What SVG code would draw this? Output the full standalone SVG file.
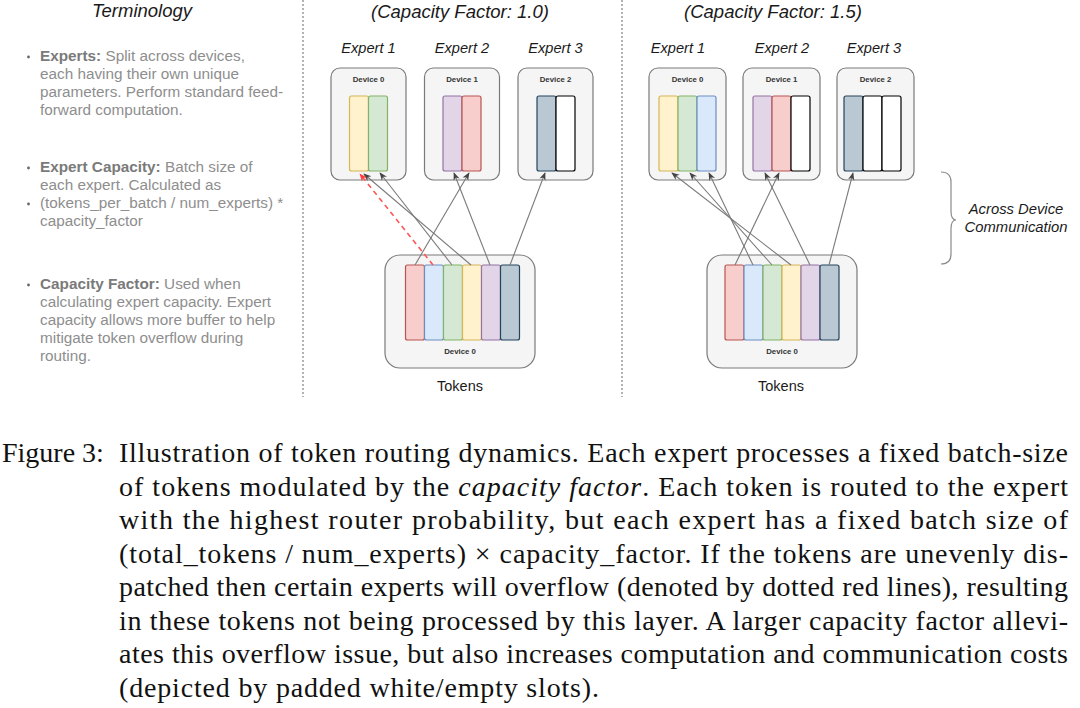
<svg xmlns="http://www.w3.org/2000/svg" width="1080" height="708" viewBox="0 0 1080 708">
<style>
.sans{font-family:"Liberation Sans",Arial,sans-serif}
.title{font-family:"Liberation Sans",Arial,sans-serif;font-style:italic;font-size:18.5px;fill:#1a1a1a}
.elab{font-family:"Liberation Sans",Arial,sans-serif;font-style:italic;font-size:14.6px;fill:#1a1a1a}
.dev{fill:#f5f5f5;stroke:#7a7a7a;stroke-width:1.2}
.devlab{font-family:"Liberation Sans",Arial,sans-serif;font-weight:bold;font-size:7.8px;fill:#333;text-anchor:middle}
.tok{font-family:"Liberation Sans",Arial,sans-serif;font-size:14.5px;fill:#1a1a1a;text-anchor:middle}
.term{font-family:"Liberation Sans",Arial,sans-serif;font-size:15.3px;fill:#8e8e8e}
.term .b{font-weight:bold;fill:#7a7a7a}
.bul{fill:#666}
.sep{stroke:#9a9a9a;stroke-width:1.5;stroke-dasharray:2 2;fill:none}
.y{fill:#fff2cc;stroke:#d6b656}
.g{fill:#d5e8d4;stroke:#82b366}
.r{fill:#f8cecc;stroke:#b85450}
.bl{fill:#dae8fc;stroke:#6c8ebf}
.p{fill:#e1d5e7;stroke:#9673a6}
.s{fill:#bac8d3;stroke:#23445d}
.w{fill:#ffffff;stroke:#000000}
.slot{stroke-width:1.2}
.conn{stroke:#7a7a7a;stroke-width:1.1;fill:none;marker-end:url(#arr)}
.over{stroke:#ff5555;stroke-width:1.6;stroke-dasharray:5 4;fill:none;marker-end:url(#arrR)}
.cap{font-family:"Liberation Serif","Times New Roman",serif;font-size:28px;fill:#111}
</style>
<defs>
<marker id="arr" viewBox="0 0 10 10" refX="9" refY="5" markerWidth="8" markerHeight="8" markerUnits="userSpaceOnUse" orient="auto">
<path d="M0,1 L10,5 L0,9 L3,5 z" fill="#444"/>
</marker>
<marker id="arrR" viewBox="0 0 10 10" refX="9" refY="5" markerWidth="8" markerHeight="8" markerUnits="userSpaceOnUse" orient="auto">
<path d="M0,1 L10,5 L0,9 L3,5 z" fill="#ff3b3b"/>
</marker>
</defs>
<rect width="1080" height="708" fill="#ffffff"/>

<!-- separators -->
<line class="sep" x1="303" y1="0" x2="303" y2="397"/>
<line class="sep" x1="622" y1="0" x2="622" y2="397"/>

<!-- Terminology -->
<g id="terminology">
<text class="sans" x="142" y="17" text-anchor="middle" font-style="italic" font-size="18.5" fill="#1a1a1a">Terminology</text>
<circle class="bul" cx="28.5" cy="57" r="1.4"/>
<text class="term" x="40" y="61"><tspan class="b">Experts:</tspan> Split across devices,</text>
<text class="term" x="40" y="79">each having their own unique</text>
<text class="term" x="40" y="97">parameters. Perform standard feed-</text>
<text class="term" x="40" y="115">forward computation.</text>
<circle class="bul" cx="28.5" cy="168" r="1.4"/>
<text class="term" x="40" y="172"><tspan class="b">Expert Capacity:</tspan> Batch size of</text>
<text class="term" x="40" y="190">each expert. Calculated as</text>
<circle class="bul" cx="28.5" cy="204" r="1.4"/>
<text class="term" x="40" y="208">(tokens_per_batch / num_experts) *</text>
<text class="term" x="40" y="226">capacity_factor</text>
<circle class="bul" cx="28.5" cy="285" r="1.4"/>
<text class="term" x="40" y="289"><tspan class="b">Capacity Factor:</tspan> Used when</text>
<text class="term" x="40" y="307">calculating expert capacity. Expert</text>
<text class="term" x="40" y="325">capacity allows more buffer to help</text>
<text class="term" x="40" y="343">mitigate token overflow during</text>
<text class="term" x="40" y="361">routing.</text>
</g>

<!-- Panel 1 -->
<text class="title" x="460" y="18" text-anchor="middle">(Capacity Factor: 1.0)</text>
<g id="cf1-expert1">
<text class="elab" x="368.5" y="53" text-anchor="middle">Expert 1</text>
<rect class="dev" x="331" y="68" width="75" height="112" rx="9"/>
<text class="devlab" x="368.5" y="82">Device 0</text>
<rect class="slot y" x="349.5" y="96" width="19" height="75" rx="2"/>
<rect class="slot g" x="368.5" y="96" width="19" height="75" rx="2"/>
</g>
<g id="cf1-expert2">
<text class="elab" x="462" y="53" text-anchor="middle">Expert 2</text>
<rect class="dev" x="424.5" y="68" width="75" height="112" rx="9"/>
<text class="devlab" x="462" y="82">Device 1</text>
<rect class="slot p" x="443" y="96" width="19" height="75" rx="2"/>
<rect class="slot r" x="462" y="96" width="19" height="75" rx="2"/>
</g>
<g id="cf1-expert3">
<text class="elab" x="555.5" y="53" text-anchor="middle">Expert 3</text>
<rect class="dev" x="518" y="68" width="75" height="112" rx="9"/>
<text class="devlab" x="555.5" y="82">Device 2</text>
<rect class="slot s" x="537" y="96" width="19" height="75" rx="2"/>
<rect class="slot w" x="556" y="96" width="19" height="75" rx="2"/>
</g>
<g id="cf1-tokens">
<rect class="dev" x="385" y="255" width="150" height="113" rx="15"/>
<rect class="slot r" x="405.5" y="265" width="19" height="75" rx="2"/>
<rect class="slot bl" x="424.5" y="265" width="19" height="75" rx="2"/>
<rect class="slot g" x="443.5" y="265" width="19" height="75" rx="2"/>
<rect class="slot y" x="462.5" y="265" width="19" height="75" rx="2"/>
<rect class="slot p" x="481.5" y="265" width="19" height="75" rx="2"/>
<rect class="slot s" x="500.5" y="265" width="19" height="75" rx="2"/>
<text class="devlab" x="460" y="354">Device 0</text>
<text class="tok" x="460" y="391">Tokens</text>
</g>

<!-- Panel 2 -->
<text class="title" x="773" y="18" text-anchor="middle">(Capacity Factor: 1.5)</text>
<g id="cf15-expert1">
<text class="elab" x="678" y="53" text-anchor="middle">Expert 1</text>
<rect class="dev" x="649" y="68" width="77" height="112" rx="9"/>
<text class="devlab" x="687.5" y="82">Device 0</text>
<rect class="slot y" x="659" y="96" width="19" height="75" rx="2"/>
<rect class="slot g" x="678" y="96" width="19" height="75" rx="2"/>
<rect class="slot bl" x="697" y="96" width="19" height="75" rx="2"/>
</g>
<g id="cf15-expert2">
<text class="elab" x="782" y="53" text-anchor="middle">Expert 2</text>
<rect class="dev" x="743" y="68" width="77" height="112" rx="9"/>
<text class="devlab" x="781.5" y="82">Device 1</text>
<rect class="slot p" x="753" y="96" width="19" height="75" rx="2"/>
<rect class="slot r" x="772" y="96" width="19" height="75" rx="2"/>
<rect class="slot w" x="791" y="96" width="19" height="75" rx="2"/>
</g>
<g id="cf15-expert3">
<text class="elab" x="874" y="53" text-anchor="middle">Expert 3</text>
<rect class="dev" x="837" y="68" width="77" height="112" rx="9"/>
<text class="devlab" x="875.5" y="82">Device 2</text>
<rect class="slot s" x="844" y="96" width="19" height="75" rx="2"/>
<rect class="slot w" x="863" y="96" width="19" height="75" rx="2"/>
<rect class="slot w" x="882" y="96" width="19" height="75" rx="2"/>
</g>
<g id="cf15-tokens">
<rect class="dev" x="707" y="255" width="150" height="113" rx="15"/>
<rect class="slot r" x="725" y="265" width="19" height="75" rx="2"/>
<rect class="slot bl" x="744" y="265" width="19" height="75" rx="2"/>
<rect class="slot g" x="763" y="265" width="19" height="75" rx="2"/>
<rect class="slot y" x="782" y="265" width="19" height="75" rx="2"/>
<rect class="slot p" x="801" y="265" width="19" height="75" rx="2"/>
<rect class="slot s" x="820" y="265" width="19" height="75" rx="2"/>
<text class="devlab" x="782" y="354">Device 0</text>
<text class="tok" x="781" y="391">Tokens</text>
</g>

<!-- connectors -->
<g id="connectors">
<line class="conn" x1="415" y1="265" x2="469" y2="173"/>
<line class="conn" x1="452" y1="265" x2="380" y2="173"/>
<line class="conn" x1="471" y1="265" x2="364" y2="174"/>
<line class="conn" x1="490" y1="265" x2="454" y2="173"/>
<line class="conn" x1="510" y1="265" x2="545" y2="173"/>
<line class="over" x1="433" y1="265" x2="360" y2="174"/>

<line class="conn" x1="735" y1="265" x2="779" y2="173"/>
<line class="conn" x1="753" y1="265" x2="709" y2="173"/>
<line class="conn" x1="772" y1="265" x2="690" y2="173"/>
<line class="conn" x1="791" y1="265" x2="672" y2="173"/>
<line class="conn" x1="810" y1="265" x2="765" y2="173"/>
<line class="conn" x1="829" y1="265" x2="853" y2="173"/>
</g>

<!-- brace -->
<g id="across-device">
<path d="M941,172 Q951,172 951,182 L951,211 Q951,220 956,220 Q951,220 951,229 L951,254 Q951,264 941,264" fill="none" stroke="#8a8a8a" stroke-width="1.2"/>
<text class="sans" x="1016" y="214" text-anchor="middle" font-style="italic" font-size="14.8" fill="#1a1a1a">Across Device</text>
<text class="sans" x="1016" y="232" text-anchor="middle" font-style="italic" font-size="14.8" fill="#1a1a1a">Communication</text>
</g>

<!-- caption -->
<g id="caption">
<text class="cap" x="2" y="462">Figure 3:</text>
<text class="cap" x="119" y="462" textLength="949" lengthAdjust="spacing">Illustration of token routing dynamics. Each expert processes a fixed batch-size</text>
<text class="cap" x="119" y="495.5" textLength="949" lengthAdjust="spacing">of tokens modulated by the <tspan font-style="italic">capacity factor</tspan>. Each token is routed to the expert</text>
<text class="cap" x="119" y="529" textLength="949" lengthAdjust="spacing">with the highest router probability, but each expert has a fixed batch size of</text>
<text class="cap" x="119" y="562.5" textLength="949" lengthAdjust="spacing">(total_tokens / num_experts) × capacity_factor. If the tokens are unevenly dis-</text>
<text class="cap" x="119" y="596" textLength="949" lengthAdjust="spacing">patched then certain experts will overflow (denoted by dotted red lines), resulting</text>
<text class="cap" x="119" y="629.5" textLength="949" lengthAdjust="spacing">in these tokens not being processed by this layer. A larger capacity factor allevi-</text>
<text class="cap" x="119" y="663" textLength="949" lengthAdjust="spacing">ates this overflow issue, but also increases computation and communication costs</text>
<text class="cap" x="119" y="696.5" textLength="480" lengthAdjust="spacing">(depicted by padded white/empty slots).</text>
</g>
</svg>
